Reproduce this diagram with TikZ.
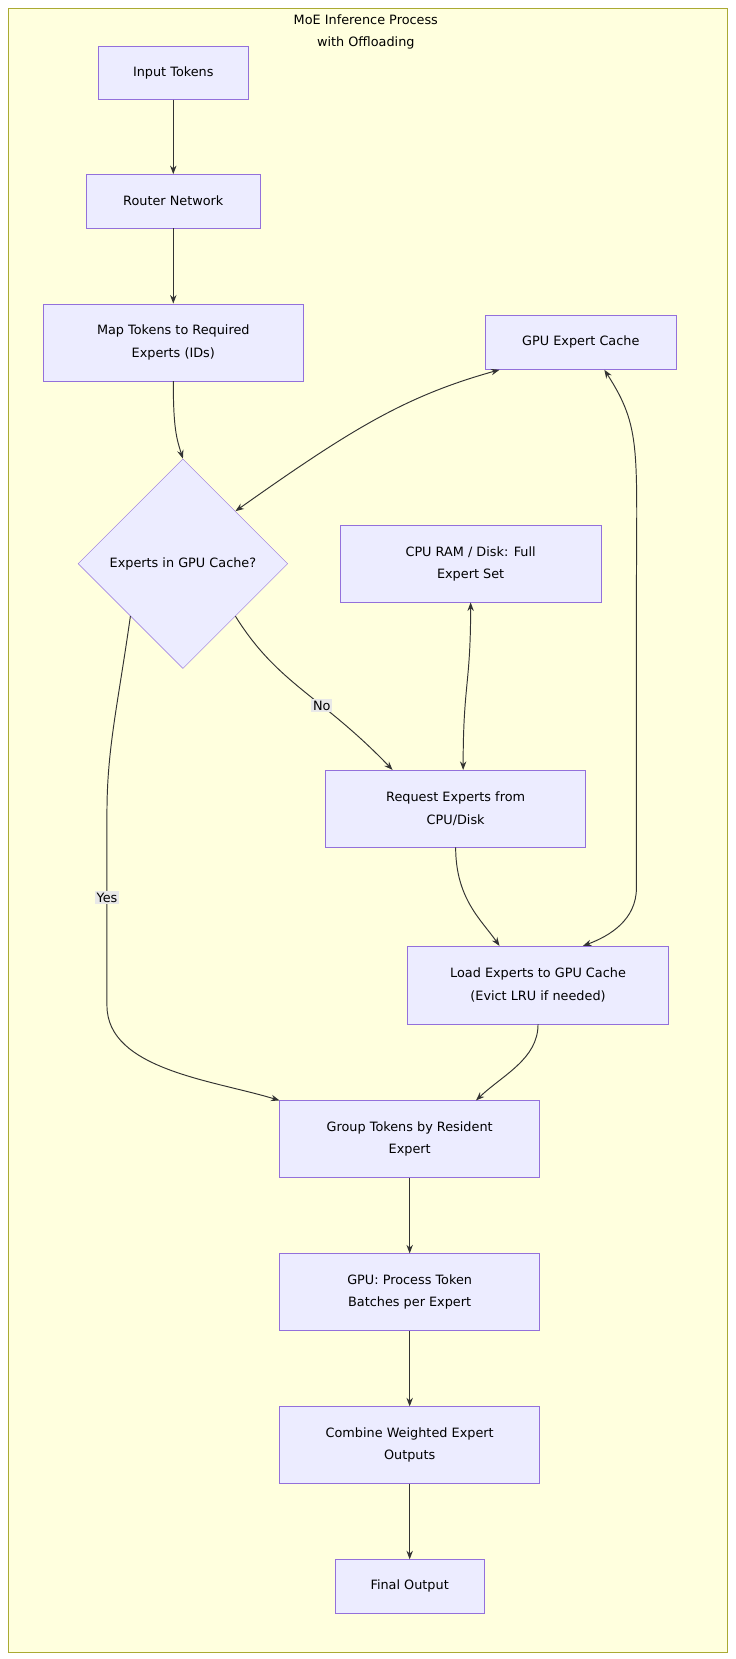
\documentclass[tikz,border=0pt]{standalone}
\usepackage{fontspec}
\setmainfont{DejaVu Sans}
\usetikzlibrary{arrows.meta}
\usetikzlibrary{shapes.geometric}

\definecolor{boxfill}{HTML}{ECECFF}
\definecolor{boxline}{HTML}{9370DB}
\definecolor{clusterfill}{HTML}{FFFFDE}
\definecolor{clusterline}{HTML}{AAAA33}
\definecolor{edgecol}{HTML}{333333}

\tikzset{
  procbox/.style={draw=boxline,fill=boxfill,inner sep=0pt,align=center,
    font=\fontsize{12}{21}\selectfont},
  edgelabel/.style={fill=black!9,inner sep=1.5pt,font=\fontsize{12}{14}\selectfont},
  flow/.style={draw=edgecol,line width=0.9pt,-{Stealth[length=8pt,width=6pt]}},
  twoway/.style={draw=edgecol,line width=0.9pt,{Stealth[length=8pt,width=6pt]}-{Stealth[length=8pt,width=6pt]}},
}

\begin{document}
\begin{tikzpicture}[%
  x=1pt,
  y=-1pt,
]

  \useasboundingbox (0,0) rectangle (688,1551);
  \draw[clusterline,fill=clusterfill,line width=0.9pt] (8,8) rectangle (680,1545);
  \node[align=center,font=\fontsize{12}{21}\selectfont] (title) at (342,30)
    {MoE Inference Process\\with Offloading};

  % main column
  \node[procbox,minimum width=140pt,minimum height=50pt] (input) at (162,68) {Input Tokens};
  \node[procbox,minimum width=162pt,minimum height=50pt] (router) at (162,188) {Router Network};
  \node[procbox,minimum width=243pt,minimum height=72pt] (map) at (162,320) {Map Tokens to Required\\Experts (IDs)};
  \node[procbox,diamond,minimum width=196pt,minimum height=196pt] (check) at (171,527) {Experts in GPU Cache?};

  % cache side
  \node[procbox,minimum width=178pt,minimum height=51pt] (cache) at (543,320) {GPU Expert Cache};
  \node[procbox,minimum width=244pt,minimum height=72pt] (cpu) at (440,527) {CPU RAM / Disk: Full\\Expert Set};
  \node[procbox,minimum width=243pt,minimum height=72pt] (request) at (426,756) {Request Experts from\\CPU/Disk};
  \node[procbox,minimum width=244pt,minimum height=73pt] (load) at (503,921) {Load Experts to GPU Cache\\(Evict LRU if needed)};

  % output column
  \node[procbox,minimum width=243pt,minimum height=72pt] (group) at (383,1065) {Group Tokens by Resident\\Expert};
  \node[procbox,minimum width=243pt,minimum height=72pt] (process) at (383,1208) {GPU: Process Token\\Batches per Expert};
  \node[procbox,minimum width=243pt,minimum height=72pt] (combine) at (383,1351) {Combine Weighted Expert\\Outputs};
  \node[procbox,minimum width=140pt,minimum height=50pt] (final) at (383,1483) {Final Output};

  \draw[flow] (input) -- (router);
  \draw[flow] (router) -- (map);
  \draw[flow] (map.south) .. controls (162,400) and (165,410) .. (check.north);

  \draw[twoway] (check.north east) .. controls (330,400) and (380,370) .. (cache.south west -| 467,0);
  \draw[twoway] (cache.south -| 565,0) .. controls (600,400) and (595,420) .. (595,560)
    -- (595,830) .. controls (595,860) and (570,875) .. (load.north -| 545,0);
  \draw[twoway] (cpu.south -| 440,0) .. controls (440,640) and (433,640) .. (request.north -| 433,0);

  \draw[flow] (check.south east) .. controls (260,640) and (300,650) .. (request.north -| 367,0)
    node[edgelabel,pos=0.62] (nolbl) {No};
  \draw[flow] (check.south west) .. controls (110,660) and (100,700) .. (100,760)
    -- (100,940) node[edgelabel,pos=0.44] (yeslbl) {Yes}
    .. controls (100,1000) and (200,1010) .. (group.north west);

  \draw[flow] (request.south -| 426,0) .. controls (426,840) and (450,860) .. (load.north -| 467,0);
  \draw[flow] (load.south) .. controls (503,990) and (470,1005) .. (group.north -| 445,0);

  \draw[flow] (group) -- (process);
  \draw[flow] (process) -- (combine);
  \draw[flow] (combine) -- (final);

\end{tikzpicture}
\end{document}
